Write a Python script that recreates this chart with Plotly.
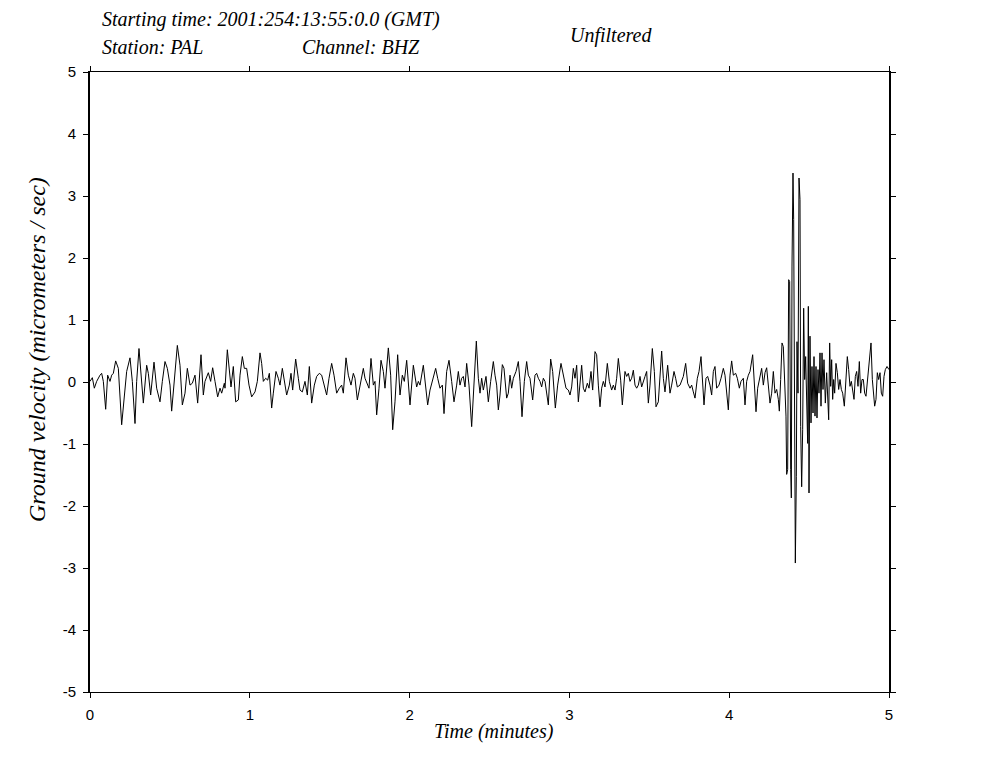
import plotly.graph_objects as go

# Time in minutes after 2001:254:13:55:0.0 GMT, ground velocity in micrometers/sec
time_min = [
    0.000, 0.0146, 0.0271, 0.0417, 0.0626, 0.0730, 0.0834, 0.0981, 0.1106, 0.1252, 0.1356, 0.1460, 0.1606, 0.1773,
    0.1982, 0.2148, 0.2295, 0.2503, 0.2649, 0.2816, 0.2920, 0.3066, 0.3191, 0.3337, 0.3546, 0.3650, 0.3796, 0.4005,
    0.4172, 0.4380, 0.4526, 0.4693, 0.4839, 0.5006, 0.5111, 0.5319, 0.5465, 0.5632, 0.5778, 0.5945, 0.6091, 0.6258,
    0.6404, 0.6571, 0.6738, 0.6946, 0.7092, 0.7196, 0.7405, 0.7551, 0.7676, 0.7822, 0.7989, 0.8135, 0.8240, 0.8406,
    0.8448, 0.8594, 0.8719, 0.8824, 0.8969, 0.9116, 0.9282, 0.9387, 0.9533, 0.9658, 0.9804, 0.9950, 1.0117, 1.0325,
    1.0471, 1.0638, 1.0743, 1.0847, 1.0993, 1.1118, 1.1222, 1.1368, 1.1472, 1.1639, 1.1785, 1.1890, 1.2036, 1.2203,
    1.2307, 1.2474, 1.2578, 1.2683, 1.2870, 1.3037, 1.3141, 1.3287, 1.3454, 1.3600, 1.3725, 1.3872, 1.4038, 1.4184,
    1.4351, 1.4497, 1.4643, 1.4810, 1.4956, 1.5123, 1.5269, 1.5436, 1.5603, 1.5749, 1.5853, 1.6020, 1.6166, 1.6333,
    1.6479, 1.6583, 1.6729, 1.6854,
    1.7000, 1.7105, 1.7209, 1.7355, 1.7459, 1.7584, 1.7730, 1.7835, 1.7939, 1.8085, 1.8210, 1.8356, 1.8460, 1.8669,
    1.8815, 1.8941, 1.9086, 1.9253, 1.9399, 1.9545, 1.9670, 1.9817, 1.9921, 2.0025, 2.0234, 2.0338, 2.0442, 2.0546,
    2.0651, 2.0859, 2.1005, 2.1131, 2.1277, 2.1423, 2.1548, 2.1631, 2.1757, 2.1902, 2.2048, 2.2153, 2.2320, 2.2466,
    2.2632, 2.2778, 2.2945, 2.3050, 2.3154, 2.3258, 2.3362, 2.3467, 2.3571, 2.3717, 2.3884, 2.4030, 2.4176, 2.4301,
    2.4406, 2.4510, 2.4614, 2.4781, 2.4927, 2.5073, 2.5240, 2.5344,
    2.5449, 2.5553, 2.5657, 2.5803, 2.5907, 2.6074, 2.6178, 2.6283, 2.6387, 2.6491, 2.6658, 2.6804, 2.6909, 2.7034,
    2.7180, 2.7326, 2.7430, 2.7534, 2.7701, 2.7847, 2.7952, 2.8056, 2.8160, 2.8264, 2.8369, 2.8473, 2.8577, 2.8682,
    2.8828, 2.8953, 2.9120, 2.9266, 2.9474, 2.9620, 2.9787, 2.9933, 3.0038, 3.0142, 3.0246, 3.0350, 3.0455, 3.0559,
    3.0768, 3.0872, 3.0976, 3.1122, 3.1227, 3.1352, 3.1456, 3.1602, 3.1706, 3.1811, 3.1915, 3.2019, 3.2123, 3.2228,
    3.2374, 3.2499, 3.2645, 3.2749, 3.2854, 3.2958, 3.3062, 3.3208, 3.3312, 3.3479, 3.3584, 3.3688, 3.3792,
    3.3897, 3.4001, 3.4105, 3.4210, 3.4314, 3.4418, 3.4522, 3.4627, 3.4731, 3.4835, 3.4940, 3.5044, 3.5190, 3.5315,
    3.5419, 3.5565, 3.5670, 3.5774, 3.5878, 3.5982, 3.6149, 3.6295, 3.6400, 3.6546, 3.6650, 3.6754, 3.6921, 3.7025,
    3.7130, 3.7276, 3.7401, 3.7547, 3.7651, 3.7756, 3.7860, 3.8006, 3.8110, 3.8236, 3.8319, 3.8423, 3.8548, 3.8653,
    3.8798, 3.8903, 3.9007, 3.9111, 3.9216, 3.9362, 3.9487, 3.9633, 3.9737, 3.9841, 3.9946, 4.0050, 4.0154, 4.0259,
    4.0405, 4.0509, 4.0634, 4.0738, 4.0884, 4.0989, 4.1093, 4.1197, 4.1302, 4.1468, 4.1573, 4.1677, 4.1781, 4.1927,
    4.2032, 4.2136,
    4.2241, 4.2345, 4.2449, 4.2553, 4.2658, 4.2762, 4.2866, 4.2971, 4.3075, 4.3137, 4.3221, 4.3304, 4.3387, 4.3471,
    4.3554, 4.3596, 4.3659, 4.3721, 4.3784, 4.3847, 4.3888, 4.3930, 4.3992, 4.4034, 4.4097, 4.4139, 4.4201, 4.4243,
    4.4305, 4.4368, 4.4431, 4.4472, 4.4535, 4.4597, 4.4660, 4.4722, 4.4785, 4.4848, 4.4910, 4.4952, 4.4994, 4.5056,
    4.5119, 4.5181, 4.5244, 4.5307, 4.5369, 4.5432, 4.5494, 4.5557, 4.5619, 4.5682, 4.5745, 4.5807, 4.5870, 4.5932,
    4.6016, 4.6099, 4.6162, 4.6225, 4.6287, 4.6350, 4.6412, 4.6475, 4.6537, 4.6600, 4.6683, 4.6767, 4.6850, 4.6934,
    4.7017, 4.7100, 4.7205, 4.7288, 4.7392, 4.7476, 4.7559, 4.7643, 4.7726, 4.7810, 4.7893, 4.7977, 4.8060, 4.8143,
    4.8227, 4.8310, 4.8394, 4.8477, 4.8560, 4.8644, 4.8727, 4.8811, 4.8874, 4.8957, 4.9041, 4.9103, 4.9186, 4.9270,
    4.9353, 4.9437, 4.9520, 4.9604, 4.9687, 4.9770, 4.9875, 5.0000,
]

velocity = [
    0.01, 0.07, -0.10, 0.01, 0.11, 0.14, 0.01, -0.44, 0.11, 0.01, 0.11, 0.14, 0.34, 0.22,
    -0.69, -0.21, 0.17, 0.39, 0.01, -0.67, 0.01, 0.54, 0.11, -0.34, 0.27, 0.14, -0.21, 0.32,
    -0.10, -0.32, 0.01, 0.33, 0.22, -0.05, -0.47, 0.17, 0.59, 0.27, -0.37, -0.18, 0.22, -0.05,
    -0.02, 0.11, -0.34, 0.44, -0.21, 0.01, 0.15, 0.01, 0.23, 0.01, -0.24, -0.10, -0.18, -0.02,
    -0.10, 0.52, 0.17, -0.08, 0.25, -0.32, -0.29, 0.11, 0.41, 0.22, 0.22, -0.05, -0.24, -0.16,
    0.01, 0.47, 0.30, 0.01, 0.06, 0.03, 0.14, -0.42, -0.18, 0.17, 0.06, -0.05, 0.22, -0.08,
    -0.21, -0.05, 0.14, -0.13, 0.37, 0.06, -0.13, -0.16, 0.01, -0.21, 0.25, -0.34, -0.05, 0.09,
    0.14, 0.11, -0.05, -0.21, 0.06, 0.30, 0.11, -0.18, -0.10, -0.05, -0.18, 0.39, 0.11, -0.05,
    0.14, 0.06, -0.29, -0.10,
    0.06, 0.22, 0.06, -0.02, -0.10, 0.38, -0.05, 0.01, -0.53, -0.10, 0.35, 0.17, -0.10, 0.55,
    0.11, -0.77, -0.32, 0.44, -0.21, 0.11, 0.01, 0.35, -0.05, -0.37, 0.27, 0.11, -0.08, 0.01,
    -0.05, 0.27, -0.05, -0.37, -0.13, 0.03, 0.17, 0.22, 0.06, -0.10, -0.05, -0.51, 0.17, 0.35,
    0.01, -0.32, -0.05, 0.17, -0.05, 0.06, 0.09, -0.08, 0.30, -0.05, -0.72, -0.05, 0.66, 0.06,
    -0.18, 0.06, -0.13, 0.09, -0.32, 0.01, 0.33, 0.11,
    -0.05, -0.45, -0.21, 0.28, 0.22, -0.26, -0.18, 0.11, -0.10, 0.06, 0.17, 0.33, 0.01, -0.56,
    0.01, 0.33, 0.11, 0.06, -0.29, 0.11, 0.14, 0.06, 0.01, -0.08, 0.06, 0.01, -0.16, -0.37,
    0.37, 0.17, -0.42, -0.05, 0.30, 0.11, -0.10, -0.13, -0.21, -0.08, 0.22, 0.06, 0.27, -0.32,
    0.27, -0.10, -0.16, -0.02, -0.10, 0.17, -0.13, 0.49, 0.44, -0.05, -0.40, -0.10, 0.01, -0.08,
    0.30, 0.01, -0.13, -0.05, -0.13, 0.06, 0.38, 0.03, -0.37, 0.17, 0.09, 0.14, 0.01,
    0.06, 0.19, -0.05, -0.10, -0.05, 0.09, -0.08, 0.03, 0.09, 0.17, -0.34, -0.05, 0.54, 0.17,
    -0.40, -0.32, 0.03, 0.50, 0.06, -0.16, 0.27, -0.18, -0.05, 0.17, 0.06, -0.08, -0.05, 0.03,
    0.09, 0.30, -0.02, -0.10, -0.05, -0.16, -0.26, 0.06, 0.17, 0.41, 0.11, -0.37, 0.06, 0.09,
    -0.05, -0.21, 0.17, 0.25, -0.10, -0.05, 0.06, 0.22, 0.11, -0.16, -0.45, 0.11, 0.34, 0.11,
    0.14, 0.06, -0.10, 0.01, 0.06, -0.37, 0.01, 0.11, 0.17, 0.44, 0.06, -0.48, -0.10, 0.06,
    0.22, -0.05,
    0.15, 0.23, -0.07, -0.34, -0.18, 0.17, -0.18, -0.12, -0.28, -0.47, 0.04, 0.63, 0.57, -0.07,
    -0.55, -1.49, -1.41, 1.65, 1.62, -1.41, -1.87, 1.87, 3.37, 2.62, -1.15, -2.92, -1.52, 0.65,
    -0.18, 3.29, 2.94, -0.72, -1.69, -0.77, 1.19, 0.04, 0.41, -0.61, -0.99, 1.22, -1.79, 0.74,
    -0.66, 0.25, -0.50, 0.41, -0.55, 0.25, -0.58, 0.20, -0.18, 0.47, -0.39, 0.47, -0.12, 0.36,
    -0.34, 0.15, -0.23, -0.61, 0.63, -0.07, 0.36, -0.28, 0.04, -0.18, 0.30, 0.15, -0.12, 0.04,
    -0.12, -0.18, -0.39, 0.04, 0.41, 0.20, -0.07, 0.01, -0.18, -0.28, 0.09, 0.17, -0.07, 0.33,
    -0.18, 0.04, 0.04, -0.18, -0.23, 0.04, 0.25, 0.47, 0.63, 0.04, -0.18, -0.39, -0.28, 0.15,
    0.04, 0.15, -0.18, -0.23, 0.09, 0.20, 0.25, 0.20,
]

x_ticks = [0, 1, 2, 3, 4, 5]
y_ticks = [-5, -4, -3, -2, -1, 0, 1, 2, 3, 4, 5]

serif = "Liberation Serif, Times New Roman, serif"
sans = "Liberation Sans, Arial, sans-serif"

fig = go.Figure()
fig.add_trace(go.Scatter(x=time_min, y=velocity, mode="lines",
                         line=dict(color="black", width=1), showlegend=False,
                         hoverinfo="skip"))

fig.update_layout(
    width=974, height=749,
    margin=dict(l=82, r=93, t=64, b=65),
    paper_bgcolor="white", plot_bgcolor="white",
    xaxis=dict(range=[0, 5], tickvals=x_ticks, ticktext=[str(v) for v in x_ticks],
               showgrid=False, zeroline=False, showline=True, linecolor="black", linewidth=1,
               mirror="allticks", ticks="outside", ticklen=5, tickcolor="black", tickwidth=1,
               ticklabelstandoff=4,
               tickfont=dict(family=sans, size=15, color="black")),
    yaxis=dict(range=[-5, 5], tickvals=y_ticks, ticktext=[str(v) for v in y_ticks],
               showgrid=False, zeroline=False, showline=True, linecolor="black", linewidth=2,
               mirror="allticks", ticks="outside", ticklen=5, tickcolor="black", tickwidth=1,
               ticklabelstandoff=4,
               tickfont=dict(family=sans, size=15, color="black")),
)

def note(text, x, y, xanchor="left", yanchor="middle", angle=0, size=20):
    fig.add_annotation(text="<i>" + text + "</i>", x=x, y=y, xref="paper", yref="paper",
                       xanchor=xanchor, yanchor=yanchor, showarrow=False, textangle=angle,
                       font=dict(family=serif, size=size, color="black"))

note("Starting time: 2001:254:13:55:0.0 (GMT)", (100 - 90) / 799, (692 - 20) / 620)
note("Station: PAL", (100 - 90) / 799, (692 - 47) / 620)
note("Channel: BHZ", (300 - 90) / 799, (692 - 47) / 620)
note("Unfiltered", (568 - 90) / 799, (692 - 35) / 620)
note("Time (minutes)", (494 - 90) / 799, (692 - 731) / 620, xanchor="center")
note("Ground velocity (micrometers / sec)", (37 - 90) / 799, (692 - 350) / 620,
     xanchor="center", angle=-90, size=24)

fig.write_html("out.html")
